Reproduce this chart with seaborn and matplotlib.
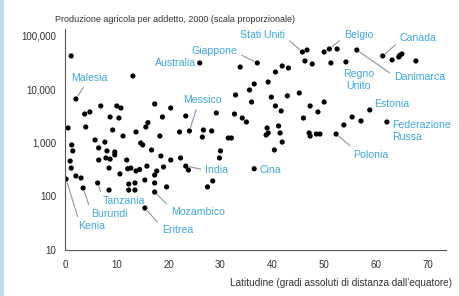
import numpy as np
import pandas as pd
import seaborn as sns
import matplotlib.pyplot as plt
from matplotlib.patches import Rectangle
from matplotlib.ticker import FuncFormatter, LogLocator, MultipleLocator

#############################
#   Data
#############################

# latitude (absolute degrees from equator)
lat = [1.2, 2.1, 0.6, 4.0, 3.8, 4.8, 6.9, 8.7, 10.0, 10.8,
       10.4, 9.2, 11.2, 13.7, 13.1, 1.3, 1.5, 1.0, 1.2, 0.2,
       2.1, 3.1, 3.5, 5.8, 7.7, 6.5, 8.1, 6.5, 7.9, 8.7,
       9.6, 9.6, 8.5, 6.3, 8.5, 10.6, 11.9, 12.1, 12.7, 13.7,
       14.4, 12.3, 13.5, 12.3, 13.5, 15.8, 14.6, 15.0, 16.7, 15.4,
       15.4, 17.3, 17.3, 17.7, 17.3, 18.5, 19.0, 19.6, 20.4, 22.3,
       23.3, 23.8, 27.5, 28.5, 29.8, 30.0, 16.0, 15.6, 17.3, 18.3,
       20.4, 18.8, 23.3, 24.0, 22.1, 26.7, 28.3, 26.5, 29.2, 31.5,
       32.1, 26.0, 37.1, 33.8, 45.8, 46.7, 46.3, 47.7, 50.0, 51.0,
       52.5, 51.3, 54.2, 56.3, 61.3, 63.1, 64.4, 65.0, 67.7, 41.9,
       43.1, 40.6, 36.5, 39.2, 35.6, 32.9, 36.0, 39.8, 42.9, 45.2,
       40.6, 41.7, 47.3, 50.0, 48.8, 32.7, 34.2, 35.0, 46.0, 58.8,
       55.4, 57.1, 53.8, 62.1, 39.0, 41.2, 38.8, 39.2, 41.5, 41.9,
       47.1, 47.3, 48.5, 49.2, 52.3, 40.4, 36.5, 64.6]

# agricultural output per worker, 2000
prod = [42300, 6650, 1910, 1990, 3480, 3800, 4920, 3060, 4920, 4510,
        2930, 1750, 1350, 1610, 17900, 920, 710, 460, 340, 212,
        242, 222, 144, 1140, 1040, 810, 710, 480, 525, 500,
        680, 600, 340, 179, 132, 264, 480, 330, 340, 300,
        320, 171, 179, 132, 132, 370, 1000, 920, 740, 203,
        61, 179, 252, 300, 121, 570, 356, 151, 480, 525,
        370, 313, 151, 195, 525, 710, 2400, 1990, 5360, 1350,
        4510, 3060, 3200, 1680, 1610, 1750, 1680, 1290, 3640, 1240,
        1240, 31300, 31300, 26300, 50200, 54700, 34100, 30000, 50200, 57100,
        57100, 31300, 32700, 54700, 42300, 35600, 40500, 46100, 34100, 27500,
        25200, 21200, 12700, 13800, 9800, 7900, 5830, 7200, 7600, 8600,
        4920, 3960, 4920, 5830, 3800, 3480, 2930, 2470, 2930, 4140,
        3060, 2580, 2170, 2470, 1910, 2080, 1410, 1540, 1540, 1040,
        1540, 1350, 1470, 1470, 1470, 740, 330, 43500]

country = [""] * len(lat)
country[1] = "Malesia"
country[81] = "Australia"
country[82] = "Giappone"
country[73] = "Messico"
country[84] = "Stati Uniti"
country[89] = "Belgio"
country[94] = "Canada"
country[92] = "Regno\nUnito"
country[93] = "Danimarca"
country[119] = "Estonia"
country[123] = "Federazione\nRussa"
country[134] = "Polonia"
country[136] = "Cina"
country[60] = "India"
country[54] = "Mozambico"
country[50] = "Eritrea"
country[33] = "Tanzania"
country[22] = "Burundi"
country[19] = "Kenia"

# label placement: text x, text y, ha, leader-line start (relpos) or None
label_pos = {
    "Malesia": (1.15, 16400, "left", (0.42, 0.0)),
    "Australia": (25.2, 31300, "right", None),
    "Giappone": (24.4, 52500, "left", (1.0, 0.3)),
    "Messico": (26.5, 6360, "center", (0.38, 0.0)),
    "Stati Uniti": (33.8, 104000, "left", (1.0, 0.3)),
    "Belgio": (53.8, 104000, "left", (0.0, 0.3)),
    "Canada": (64.6, 91800, "left", (0.0, 0.2)),
    "Regno\nUnito": (56.7, 15100, "center", None),
    "Danimarca": (63.5, 17100, "left", (0.0, 0.6)),
    "Estonia": (59.6, 5360, "left", None),
    "Federazione\nRussa": (63.1, 1680, "left", None),
    "Polonia": (55.6, 600, "left", (0.05, 1.0)),
    "Cina": (37.5, 313, "left", None),
    "India": (27.1, 313, "left", (0.0, 0.5)),
    "Mozambico": (20.4, 51.3, "left", (0.02, 0.8)),
    "Eritrea": (18.65, 23.7, "left", (0.0, 0.8)),
    "Tanzania": (7.3, 82.4, "left", (0.0, 0.8)),
    "Burundi": (5.0, 47.1, "left", (0.0, 0.8)),
    "Kenia": (2.5, 28.1, "left", (0.05, 0.9)),
}

#############################
#           Plot
#############################

sns.set_style("white")
plt.rcParams['font.family'] = ['Liberation Sans', 'DejaVu Sans']

df = pd.DataFrame({'lat': lat, 'prod': prod, 'country': country})

LABEL_BLUE = "#3da6e3"
LINE_GREY = "#8796aa"
AXIS_GREY = "#555555"

fig = plt.figure(figsize=(4.59, 2.96), dpi=100)
ax = fig.add_axes([0.1416, 0.1554, 0.83, 0.7466])

sns.scatterplot(data=df, x='lat', y='prod', ax=ax, color='black',
                s=14, edgecolor='none', legend=False)

ax.set_yscale('log')
ax.set_xlim(0, 73.5)
ax.set_ylim(10, 135000)

ax.xaxis.set_major_locator(MultipleLocator(10))
ax.xaxis.set_minor_locator(MultipleLocator(5))
ax.yaxis.set_major_locator(LogLocator(base=10))
ax.yaxis.set_minor_locator(LogLocator(base=10, subs=np.arange(2, 10)))
ax.yaxis.set_major_formatter(FuncFormatter(lambda v, p: f"{int(v):,}"))

ax.tick_params(axis='both', which='major', direction='inout', length=5,
               width=0.7, color=AXIS_GREY, labelsize=7, labelcolor='#333333')
ax.tick_params(axis='y', which='major', pad=4)
ax.tick_params(axis='x', which='major', pad=5)
ax.tick_params(axis='both', which='minor', direction='in', length=2.5,
               width=0.5, color=AXIS_GREY)
ax.tick_params(axis='x', which='minor', direction='inout', length=4)

sns.despine(ax=ax)
for side in ['left', 'bottom']:
    ax.spines[side].set_color(AXIS_GREY)
    ax.spines[side].set_linewidth(0.8)
ax.set_xlabel('')
ax.set_ylabel('')

for _, row in df[df['country'] != ""].iterrows():
    tx, ty, ha, rel = label_pos[row['country']]
    props = None
    if rel is not None:
        props = dict(arrowstyle='-', color=LINE_GREY, lw=0.8,
                     shrinkA=1, shrinkB=2.5, relpos=rel)
    ax.annotate(row['country'], xy=(row['lat'], row['prod']), xytext=(tx, ty),
                ha=ha, va='center', multialignment=ha,
                fontsize=7.6, color=LABEL_BLUE, linespacing=1.3,
                arrowprops=props, annotation_clip=False)

fig.text(55 / 459, 1 - 19 / 296,
         'Produzione agricola per addetto, 2000 (scala proporzionale)',
         fontsize=6.5, color='#333333', va='center', ha='left')
fig.text(452 / 459, 1 - 283 / 296,
         'Latitudine (gradi assoluti di distanza dall\u2019equatore)',
         fontsize=7.2, color='#333333', va='center', ha='right')

# light blue frame strip at the left edge
fig.patches.append(Rectangle((0, 0), 4 / 459, 1, transform=fig.transFigure,
                             facecolor='#c5d9ec', edgecolor='none'))

plt.savefig('out.png', dpi=100)
